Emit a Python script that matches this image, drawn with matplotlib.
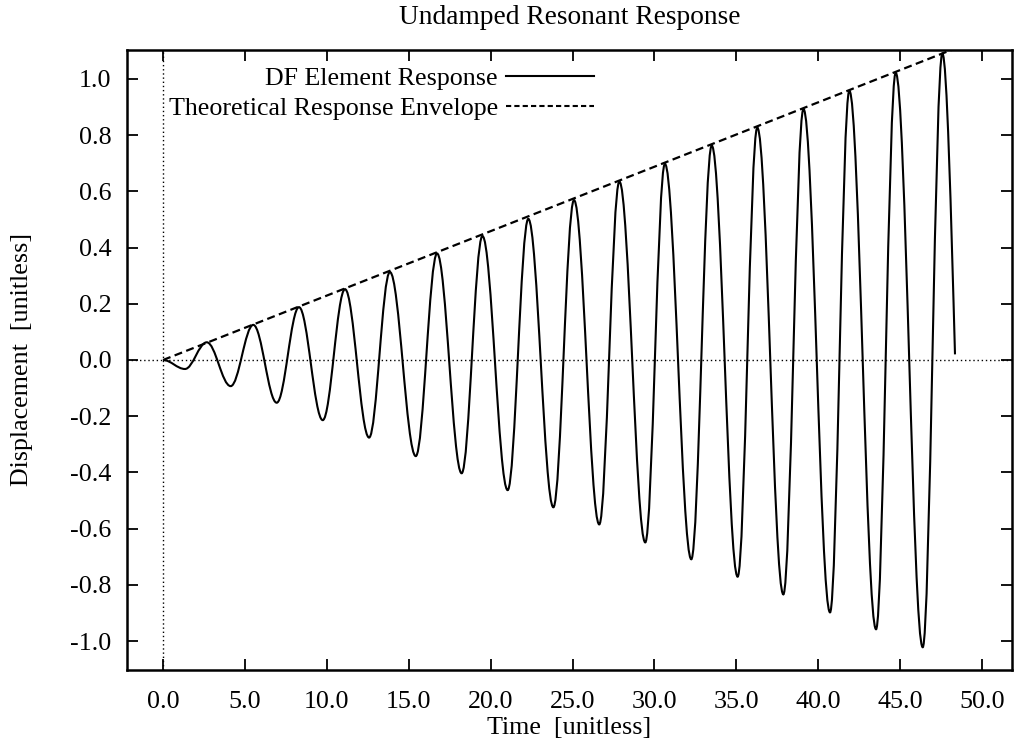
import matplotlib
matplotlib.use("Agg")
import matplotlib.pyplot as plt
from matplotlib.path import Path
from matplotlib.patches import PathPatch
from matplotlib.lines import Line2D

# ---- data ----
start_t, start_y = 0.0, 0.0
trough_t = [1.34, 4.13, 6.94, 9.75, 12.58, 15.43, 18.23, 21.04, 23.83, 26.63,
            29.44, 32.25, 35.08, 37.87, 40.72, 43.53, 46.38]
trough_y = [-0.032, -0.093, -0.152, -0.214, -0.276, -0.342, -0.403, -0.463, -0.524,
            -0.585, -0.649, -0.709, -0.771, -0.834, -0.898, -0.958, -1.022]
peak_t = [2.67, 5.51, 8.30, 11.11, 13.85, 16.73, 19.50, 22.30, 25.09, 27.86,
          30.64, 33.50, 36.28, 39.10, 41.90, 44.73, 47.58]
peak_y = [0.063, 0.125, 0.188, 0.252, 0.313, 0.379, 0.441, 0.502, 0.569, 0.635,
          0.698, 0.763, 0.827, 0.893, 0.958, 1.022, 1.091]
end_t, end_y = 48.35, 0.02

env_t = [0.0, 48.25]
env_y = [0.0, 1.106]

xticks = [0, 5, 10, 15, 20, 25, 30, 35, 40, 45, 50]
yticks = [-1.0, -0.8, -0.6, -0.4, -0.2, 0.0, 0.2, 0.4, 0.6, 0.8, 1.0]

title = "Undamped Resonant Response"
xlabel = "Time  [unitless]"
ylabel = "Displacement  [unitless]"
label_resp = "DF Element Response"
label_env = "Theoretical Response Envelope"

plt.rcParams['font.family'] = ['Liberation Serif', 'DejaVu Serif']
FS = 18.7

fig = plt.figure(figsize=(10.19, 7.46), dpi=100)
ax = fig.add_axes([127/1019, 1 - 670/746, (1012-127)/1019, (670-50)/746])

ax.set_xlim(-2.20, 51.83)
ax.set_ylim(-1.103, 1.103)

# zero axes (dotted)
ax.axhline(0, color='black', lw=1.0, ls=(0, (1, 2)), zorder=1)
ax.axvline(0, color='black', lw=1.0, ls=(0, (1, 2)), zorder=1)

# build the extremum sequence of the response
kt = [start_t]
ky = [start_y]
for a, b, c, d in zip(trough_t, trough_y, peak_t, peak_y):
    kt += [a, c]
    ky += [b, d]
kt.append(end_t)
ky.append(end_y)

verts = [(kt[0], ky[0])]
codes = [Path.MOVETO]
k = 0.3634
n = len(kt)
for i in range(n - 1):
    t0, y0, t1, y1 = kt[i], ky[i], kt[i + 1], ky[i + 1]
    dt = t1 - t0
    if i < n - 2:
        verts += [(t0 + k * dt, y0), (t1 - k * dt, y1), (t1, y1)]
    else:
        # quarter wave from last peak down to the end point
        verts += [(t0 + 0.35 * dt, y0), (t1 - 0.3 * dt, y1 + 0.45 * (y0 - y1)), (t1, y1)]
    codes += [Path.CURVE4] * 3
resp = PathPatch(Path(verts, codes), fill=False, edgecolor='black', lw=1.5, zorder=3)
ax.add_patch(resp)

ax.plot(env_t, env_y, color='black', lw=1.6, ls=(0, (3.6, 2.0)), zorder=4)

# legend (gnuplot style: text then sample, right aligned)
h1 = Line2D([], [], color='black', lw=1.5)
h2 = Line2D([], [], color='black', lw=1.5, ls=(0, (2.5, 1.5)))
leg = ax.legend([h1, h2], [label_resp, label_env], loc='upper right',
                bbox_to_anchor=((594 - 127) / 885, 1 - (67 - 50) / 620),
                frameon=False, markerfirst=False, fontsize=FS,
                handlelength=3.4, handletextpad=0.3, labelspacing=0.25,
                borderpad=0, borderaxespad=0)

ax.set_xticks(xticks)
ax.set_xticklabels([f"{v:.1f}" for v in xticks])
ax.set_yticks(yticks)
ax.set_yticklabels([f"{v:.1f}" for v in yticks])
ax.tick_params(direction='in', length=8, width=1.3, top=True, right=True,
               labelsize=FS)
ax.tick_params(axis='x', pad=15)
ax.tick_params(axis='y', pad=11)
for s in ax.spines.values():
    s.set_linewidth(1.8)

ax.set_title(title, fontsize=FS + 1, pad=18.5)
ax.set_xlabel(xlabel, fontsize=FS, labelpad=3)
ax.set_ylabel(ylabel, fontsize=FS, labelpad=27)

fig.savefig("out.png", dpi=100)
